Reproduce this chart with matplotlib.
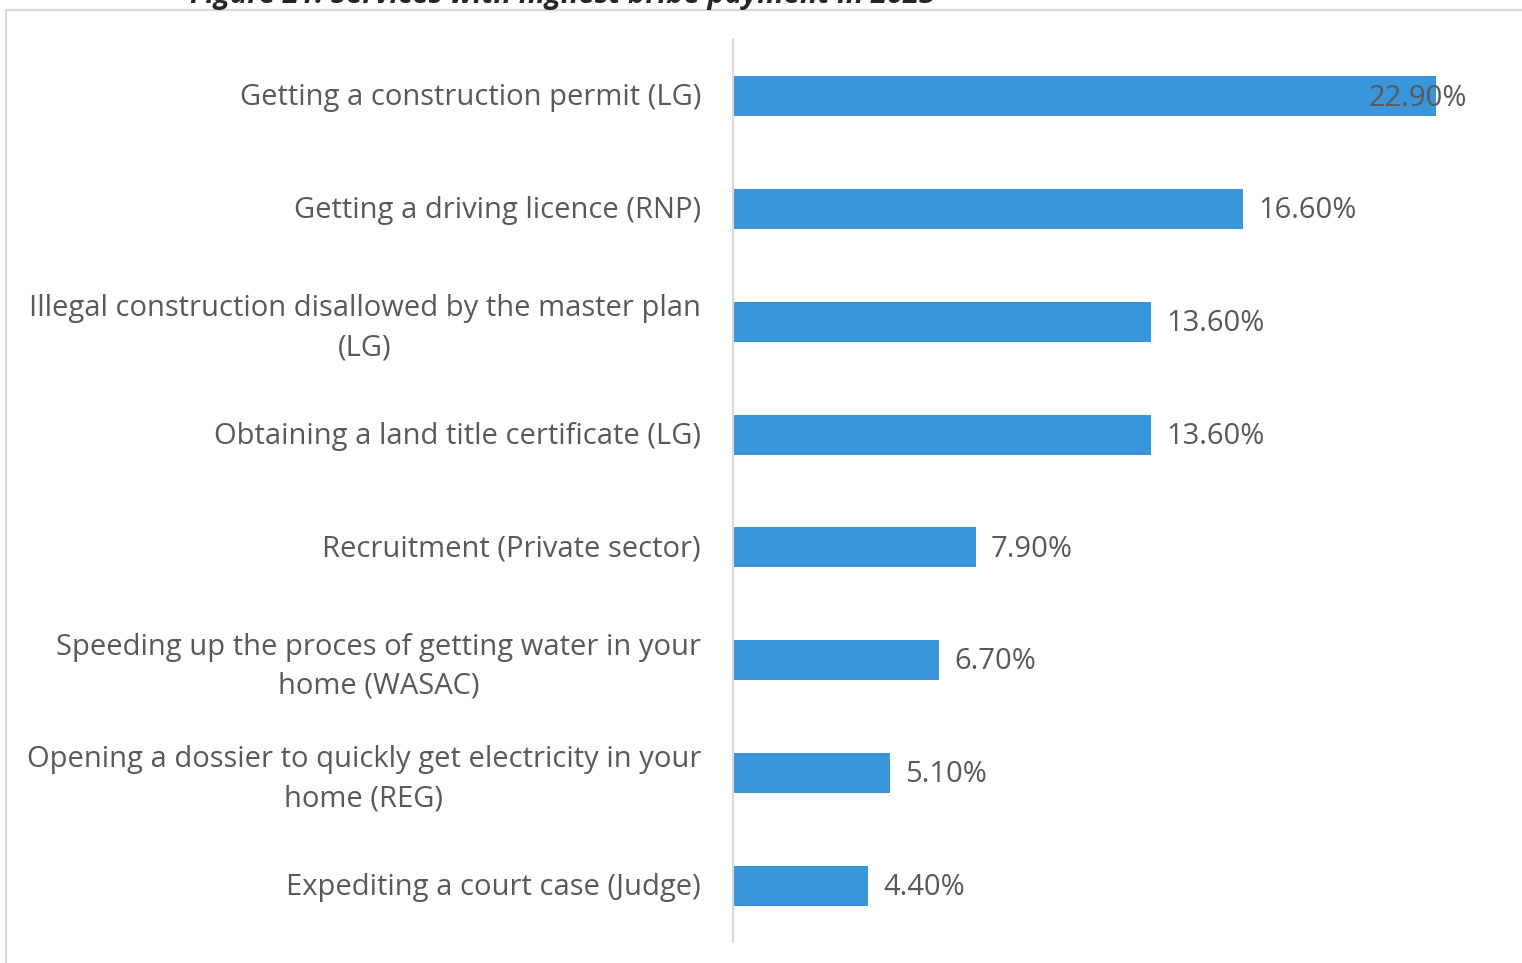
import matplotlib.pyplot as plt
import matplotlib.transforms as mtransforms
from matplotlib.patches import Rectangle

plt.rcParams['font.family'] = ['Open Sans', 'DejaVu Sans']

categories = [
    "Getting a construction permit (LG)",
    "Getting a driving licence (RNP)",
    "Illegal construction disallowed by the master plan\n(LG)",
    "Obtaining a land title certificate (LG)",
    "Recruitment (Private sector)",
    "Speeding up the proces of getting water in your\nhome (WASAC)",
    "Opening a dossier to quickly get electricity in your\nhome (REG)",
    "Expediting a court case (Judge)",
]
values = [22.9, 16.6, 13.6, 13.6, 7.9, 6.7, 5.1, 4.4]
title = "Figure 21: Services with highest bribe payment in 2023"

W, H = 1522, 963
fig = plt.figure(figsize=(W / 100, H / 100), dpi=100)

# light grey frame around the chart area
fig.patches.append(Rectangle((6 / W, -0.05), 1.1, (H - 10) / H + 0.05,
                             transform=fig.transFigure, fill=False,
                             edgecolor='#D9D9D9', linewidth=1.5))

fig.text(190 / W, 1 - 3 / H, title, fontsize=21, fontweight='bold',
         fontstyle='italic', color='#262626', va='baseline', ha='left')

ax = fig.add_axes([733 / W, 21 / H, 767.5 / W, 902 / H])
grey = '#595959'
y = list(range(len(categories)))
ax.barh(y, values, height=0.354, color='#3A96DA', zorder=2)
ax.set_ylim(len(categories) - 0.5, -0.5)
ax.set_xlim(0, 25)
ax.set_yticks(y)
ax.set_yticklabels(categories, fontsize=21, color=grey, ha='right',
                   linespacing=1.45)
ax.tick_params(axis='y', length=0, pad=23)
shift_up = mtransforms.ScaledTranslation(0, 2 / 100, fig.dpi_scale_trans)
for lbl in ax.get_yticklabels():
    lbl.set_multialignment('center')
    lbl.set_transform(lbl.get_transform() + shift_up)
ax.set_xticks([])
for s in ['top', 'right', 'bottom']:
    ax.spines[s].set_visible(False)
ax.spines['left'].set_color('#D9D9D9')
ax.spines['left'].set_linewidth(1.5)

for yi, v in zip(y, values):
    ax.text(v + 0.5 if v < 20 else v - 2.2, yi + 0.015, f"{v:.2f}%",
            va='center', ha='left', fontsize=21, color=grey, zorder=3)

fig.savefig('out.png', dpi=100)
